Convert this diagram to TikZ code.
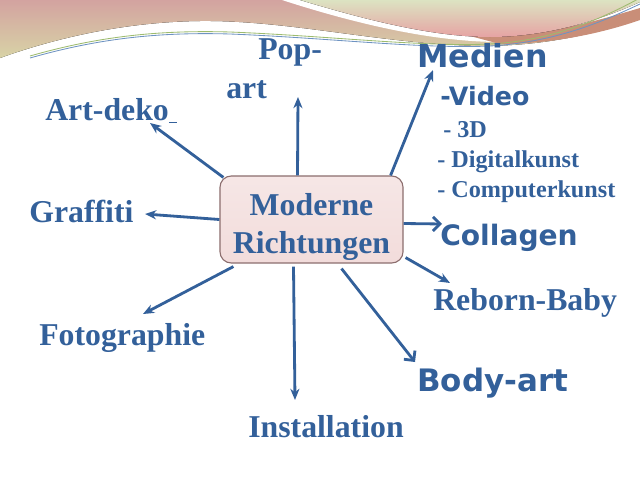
\documentclass[tikz,border=0pt]{standalone}
\usepackage{fontspec}
\setmainfont{Liberation Serif}
\newfontfamily\vsans{DejaVu Sans}
\usetikzlibrary{arrows.meta,calc}
\definecolor{txtblue}{HTML}{33609A}
\definecolor{boxpink}{HTML}{F2DCDB}
\definecolor{boxline}{HTML}{8C6E6E}
\definecolor{wavepink}{HTML}{D3A3A0}
\definecolor{wavetan}{HTML}{D8D3A6}
\definecolor{wavegreen}{HTML}{DCE3C2}
\definecolor{waverose}{HTML}{E6A3A3}
\definecolor{wavebrown}{HTML}{C98E78}
\definecolor{linegreen}{HTML}{9DBB6E}
\definecolor{lineblue}{HTML}{6E93C2}

\begin{document}
\begin{tikzpicture}[x=0.025cm,y=-0.025cm,
	lbl/.style={anchor=base west,inner sep=0pt,text=txtblue,font=\fontsize{22.6}{27}\selectfont\bfseries},
	lblsans/.style={lbl,font=\vsans\fontsize{20}{24}\selectfont\bfseries},
	sub/.style={lbl,font=\fontsize{17.2}{20}\selectfont\bfseries},
	box/.style={draw=boxline,line width=0.8pt,top color=boxpink!70!white,bottom color=boxpink,rounded corners=8pt,
		minimum width=4.575cm,minimum height=2.175cm,inner sep=0pt,align=center,text=txtblue,
		font=\fontsize{22.6}{27}\selectfont\bfseries},
	arr/.style={draw=txtblue,line width=2pt,-{Stealth[length=8pt,width=6.5pt]}},
	oarr/.style={draw=txtblue,line width=2pt,-{Straight Barb[length=5pt,width=10pt]}}]
	\useasboundingbox (0,0) rectangle (640,480);

	\fill[top color=wavepink,bottom color=wavetan] (0,0) -- (640,0) -- (640,18) .. controls (590,36) and (540,46) .. (480,46)
		.. controls (380,44) and (290,20) .. (200,21) .. controls (120,22) and (50,40) .. (0,58) -- cycle;
	\fill[white] (282,0) .. controls (350,22) and (430,42) .. (500,42) .. controls (560,42) and (610,24) .. (640,12) -- (640,0) -- cycle;
	\fill[wavebrown] (470,36) .. controls (540,38) and (600,20) .. (640,8) -- (640,20) .. controls (600,34) and (550,44) .. (500,44) -- cycle;
	\fill[top color=wavegreen,bottom color=waverose] (300,0) .. controls (360,18) and (430,37) .. (490,37)
		.. controls (550,37) and (605,18) .. (640,2) -- (640,0) -- cycle;
	\draw[linegreen,line width=0.6pt] (30,56) .. controls (100,36) and (160,30) .. (230,32)
		.. controls (330,36) and (420,47) .. (490,44) .. controls (560,40) and (610,14) .. (640,-2);
	\draw[lineblue,line width=0.6pt] (30,58) .. controls (100,38) and (160,32) .. (230,34)
		.. controls (330,38) and (420,49) .. (490,46) .. controls (560,42) and (610,18) .. (640,4);

	\node[box] (mr) at (311.5,219.5) {\rule{0pt}{27pt}Moderne\\Richtungen};

	\node[lbl] (popa) at (258,60) {Pop-};
	\node[lbl] (popb) at (226,98) {art};
	\node[lbl] (deko) at (45,120) {Art-deko\underline{\hspace{6pt}}};
	\node[lbl] (graf) at (29,222) {Graffiti};
	\node[lbl] (foto) at (39,345) {Fotographie};
	\node[lbl] (inst) at (248,437) {Installation};
	\node[lblsans,font=\vsans\fontsize{22}{26}\selectfont\bfseries] (body) at (417,391) {Body-art};
	\node[lbl] (reb) at (433,310) {Reborn-Baby};
	\node[lblsans] (coll) at (440,245) {Collagen};
	\node[lblsans,font=\vsans\fontsize{22.5}{25}\selectfont\bfseries] (med) at (417,67) {Medien};
	\node[lblsans,font=\vsans\fontsize{18}{22}\selectfont\bfseries] (vid) at (440,105) {-Video};
	\node[sub] (dd) at (443,137) {- 3D};
	\node[sub] (dig) at (437,167) {- Digitalkunst};
	\node[sub] (comp) at (437,197) {- Computerkunst};

	\coordinate (tpop) at (298,97);
	\coordinate (tdeko) at (150,123);
	\coordinate (tgraf) at (145,214);
	\coordinate (tfoto) at (143,314);
	\coordinate (tinst) at (295,400);
	\coordinate (tbody) at (415,362);
	\coordinate (treb) at (450,283);
	\coordinate (tcoll) at (442,224);
	\coordinate (tmed) at (433,70);

	\draw[arr] ($(mr.north)+(-14,0)$) -- (tpop);
	\draw[arr] ($(mr.north west)+(4,2)$) -- (tdeko);
	\draw[arr] (mr.west) -- (tgraf);
	\draw[arr] ($(mr.south west)+(14,3)$) -- (tfoto);
	\draw[arr] ($(mr.south)+(-18,3)$) -- (tinst);
	\draw[oarr] ($(mr.south)+(30,5)$) -- (tbody);
	\draw[arr] ($(mr.south east)+(2,-6)$) -- (treb);
	\draw[oarr] ($(mr.east)+(0,4)$) -- (tcoll);
	\draw[arr] ($(mr.north east)+(-13,0)$) -- (tmed);
\end{tikzpicture}
\end{document}
